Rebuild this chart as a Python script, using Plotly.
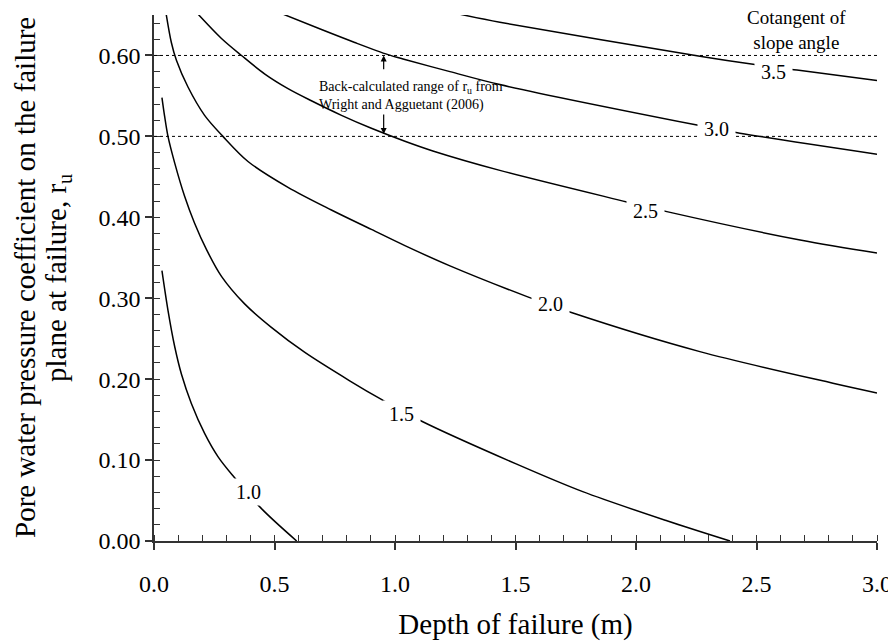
import plotly.graph_objects as go

# depth of failure (m) vs r_u, one curve per cotangent of slope angle
cot_labels = ["1.0", "1.5", "2.0", "2.5", "3.0", "3.5"]

depth_10 = [0.033, 0.058, 0.086, 0.114, 0.155, 0.210, 0.266, 0.332, 0.446, 0.592]
ru_10 = [0.334, 0.285, 0.240, 0.206, 0.170, 0.133, 0.104, 0.079, 0.040, 0.0]

depth_15 = [0.033, 0.044, 0.058, 0.086, 0.127, 0.168, 0.218, 0.280, 0.376, 0.487,
            0.626, 0.812, 0.949, 1.111, 1.505, 1.779, 2.128, 2.390]
ru_15 = [0.548, 0.525, 0.500, 0.467, 0.426, 0.393, 0.360, 0.327, 0.293, 0.264,
         0.233, 0.198, 0.174, 0.148, 0.095, 0.061, 0.025, 0.0]

depth_20 = [0.050, 0.072, 0.093, 0.141, 0.210, 0.286, 0.390, 0.556, 0.736, 0.902,
            1.041, 1.228, 1.548, 1.735, 2.265, 2.817, 3.0]
ru_20 = [0.652, 0.616, 0.594, 0.561, 0.526, 0.500, 0.469, 0.437, 0.409, 0.385,
         0.365, 0.340, 0.302, 0.282, 0.234, 0.195, 0.183]

depth_25 = [0.183, 0.280, 0.363, 0.460, 0.556, 0.653, 0.778, 0.902, 1.041, 1.157,
            1.435, 1.962, 2.128, 2.681, 3.0]
ru_25 = [0.651, 0.621, 0.600, 0.577, 0.559, 0.544, 0.526, 0.510, 0.494, 0.482,
         0.458, 0.419, 0.407, 0.372, 0.356]

depth_30 = [0.536, 0.695, 0.833, 0.971, 1.041, 1.228, 1.435, 2.253, 2.431, 3.0]
ru_30 = [0.651, 0.632, 0.616, 0.601, 0.595, 0.580, 0.564, 0.514, 0.504, 0.478]

depth_35 = [1.269, 1.435, 2.265, 2.486, 2.668, 3.0]
ru_35 = [0.651, 0.641, 0.599, 0.589, 0.582, 0.569]

# where each curve is labelled
label_x = [0.393, 1.028, 1.647, 2.041, 2.336, 2.572]
label_y = [0.060, 0.157, 0.293, 0.408, 0.509, 0.580]

# back-calculated r_u range (Wright and Agguetant 2006)
ru_range = [0.50, 0.60]

curves = [(depth_10, ru_10), (depth_15, ru_15), (depth_20, ru_20),
          (depth_25, ru_25), (depth_30, ru_30), (depth_35, ru_35)]

SERIF = "Liberation Serif"

fig = go.Figure()

for (xs, ys), name in zip(curves, cot_labels):
    fig.add_trace(go.Scatter(
        x=xs, y=ys, mode="lines", name=name,
        line=dict(color="black", width=1.5, shape="spline", smoothing=0.9),
        showlegend=False,
    ))

# dashed reference lines
for r in ru_range:
    fig.add_shape(type="line", xref="x", yref="y", x0=0, x1=3.0, y0=r, y1=r,
                  line=dict(color="black", width=1, dash="3px,3px"))

# curve labels sit on a white patch that cuts the line
for lx, ly, txt in zip(label_x, label_y, cot_labels):
    fig.add_annotation(x=lx, y=ly, text="\u2009" + txt + "\u2009", showarrow=False,
                       font=dict(family=SERIF, size=20, color="black"),
                       bgcolor="white", borderpad=2)

fig.add_annotation(x=2.664, y=0.631, text="Cotangent of<br>slope angle",
                   showarrow=False, font=dict(family=SERIF, size=19, color="black"))

fig.add_annotation(x=0.675, y=0.550, xanchor="left", align="left",
                   text="Back-calculated range of r<sub>u</sub> from<br>Wright and Agguetant (2006)",
                   showarrow=False, font=dict(family=SERIF, size=14, color="black"))

# arrows pointing to the two bounds
fig.add_annotation(x=0.953, y=ru_range[1], ax=0.953, ay=0.581, xref="x", yref="y",
                   axref="x", ayref="y", text="", showarrow=True,
                   arrowhead=2, arrowsize=1, arrowwidth=1.2, arrowcolor="black")
fig.add_annotation(x=0.953, y=ru_range[0] + 0.003, ax=0.953, ay=0.529, xref="x", yref="y",
                   axref="x", ayref="y", text="", showarrow=True,
                   arrowhead=2, arrowsize=1, arrowwidth=1.2, arrowcolor="black")

# y-axis title, two rotated lines
yt_font = dict(family=SERIF, size=29, color="black")
fig.add_annotation(xref="paper", yref="paper", x=0, y=0.5, xshift=-129, xanchor="center",
                   text="Pore water pressure coefficient on the failure",
                   textangle=-90, showarrow=False, font=yt_font)
fig.add_annotation(xref="paper", yref="paper", x=0, y=0.5, xshift=-96, xanchor="center",
                   text="plane at failure, r<sub>u</sub>",
                   textangle=-90, showarrow=False, font=yt_font)

axis_common = dict(
    showgrid=False, zeroline=False, showline=True, linecolor="#333", linewidth=1.5,
    ticks="outside", ticklen=7, tickwidth=1.5, tickcolor="#333", automargin=False,
    ticklabeloverflow="allow",
    tickfont=dict(family=SERIF, size=24, color="black"),
)

fig.update_layout(
    width=888, height=633,
    margin=dict(l=146, r=19, t=7, b=100),
    plot_bgcolor="white", paper_bgcolor="white",
    xaxis=dict(
        range=[0, 3.0], dtick=0.5, tickformat=".1f", ticklabelstandoff=13,
        minor=dict(dtick=0.1, ticks="inside", ticklen=6, tickwidth=1.2, tickcolor="#333"),
        title=dict(text="Depth of failure (m)", standoff=26,
                   font=dict(family=SERIF, size=29, color="black")),
        **axis_common,
    ),
    yaxis=dict(
        range=[0, 0.65], dtick=0.1, tickformat=".2f",
        minor=dict(dtick=0.02, ticks="inside", ticklen=6, tickwidth=1.2, tickcolor="#333"),
        **axis_common,
    ),
    # overlay axes give the major ticks their inner half
    xaxis2=dict(overlaying="x", range=[0, 3.0], dtick=0.5, ticks="inside", ticklen=6,
                tickwidth=1.5, tickcolor="#333", showticklabels=False, showgrid=False,
                zeroline=False, showline=False, side="bottom"),
    yaxis2=dict(overlaying="y", range=[0, 0.65], dtick=0.1, ticks="inside", ticklen=6,
                tickwidth=1.5, tickcolor="#333", showticklabels=False, showgrid=False,
                zeroline=False, showline=False, side="left"),
)

fig.write_html("out.html")
